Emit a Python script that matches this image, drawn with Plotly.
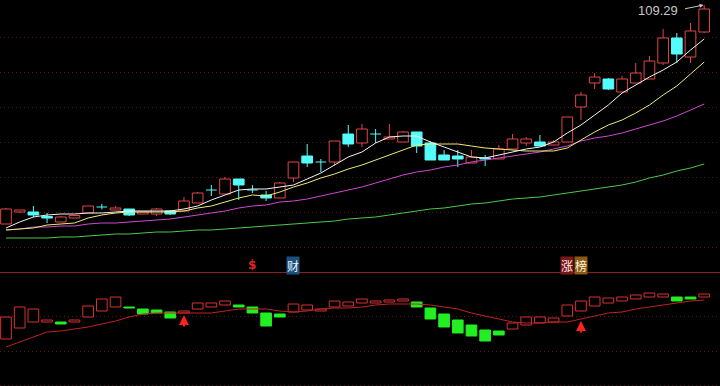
import plotly.graph_objects as go

# ---------------- data ----------------
idx = list(range(52))
opens = [65.5, 67.9, 67.9, 67.0, 65.9, 66.7, 67.7, 68.9, 68.3, 68.5,
         67.5, 67.5, 68.1, 68.1, 69.7, 72.3, 71.5, 74.5, 72.3, 71.3,
         70.7, 74.7, 79.1, 77.9, 77.9, 83.5, 81.7, 83.5, 82.5, 81.9,
         83.9, 81.7, 79.3, 79.1, 77.7, 78.7, 78.5, 80.5, 81.7, 81.9,
         81.3, 81.9, 88.9, 93.7, 94.5, 91.9, 93.7, 94.5, 97.7, 102.7,
         98.9, 103.9]
closes = [68.5, 68.3, 67.3, 66.7, 66.9, 67.2, 69.1, 68.9, 68.7, 67.3,
          67.9, 68.5, 67.5, 70.1, 71.7, 72.3, 74.5, 73.3, 72.3, 70.7,
          73.7, 77.9, 77.7, 77.9, 82.1, 81.5, 84.5, 83.5, 82.9, 83.9,
          81.1, 78.3, 78.3, 78.5, 78.9, 78.5, 80.5, 82.5, 82.5, 81.1,
          81.9, 86.9, 91.3, 94.9, 92.5, 94.5, 95.7, 98.1, 102.7, 99.5,
          104.1, 108.5]
highs = [68.7, 68.3, 69.1, 67.7, 67.1, 67.3, 69.1, 69.5, 69.1, 68.5,
         67.9, 68.7, 68.3, 70.9, 71.9, 73.3, 74.9, 74.5, 73.3, 72.1,
         73.9, 77.9, 81.5, 78.5, 82.1, 85.3, 85.5, 84.5, 85.5, 84.1,
         83.9, 82.1, 80.3, 80.3, 80.3, 79.3, 81.3, 83.5, 82.9, 83.3,
         82.3, 86.9, 91.9, 95.7, 94.7, 95.1, 97.7, 99.1, 104.5, 103.7,
         105.7, 109.29]
lows = [65.5, 67.7, 66.9, 65.7, 65.9, 66.7, 67.7, 68.4, 68.3, 67.1,
        67.5, 67.1, 67.3, 68.1, 69.7, 71.1, 71.5, 70.3, 71.7, 70.1,
        70.7, 73.9, 76.9, 75.9, 77.1, 80.9, 80.9, 81.7, 82.5, 81.9,
        79.7, 78.3, 78.3, 76.9, 77.7, 77.1, 78.5, 80.5, 81.1, 81.1,
        81.3, 81.9, 86.3, 92.5, 92.3, 91.9, 93.7, 94.5, 97.3, 97.7,
        97.7, 103.7]

ma5 = [64.7, 65.9, 66.9, 67.3, 67.5, 67.5, 67.7, 67.7, 67.9, 68.1,
       68.1, 68.1, 68.1, 68.5, 69.1, 70.3, 71.3, 72.3, 72.5, 72.5,
       72.9, 73.3, 74.5, 75.7, 77.3, 78.9, 79.9, 81.7, 82.9, 83.1,
       83.1, 81.9, 80.9, 79.9, 78.9, 78.7, 79.3, 79.9, 80.5, 80.9,
       81.9, 83.7, 85.3, 87.3, 89.3, 91.7, 93.3, 94.9, 96.3, 97.9,
       100.3, 102.5]
ma10 = [64.3, 64.5, 64.7, 65.3, 65.5, 65.7, 66.7, 67.3, 67.7, 67.9,
        67.9, 67.9, 67.9, 68.1, 68.7, 69.1, 69.9, 70.7, 71.3, 71.1,
        71.9, 72.9, 73.7, 74.7, 75.5, 76.5, 77.3, 78.3, 79.3, 80.3,
        81.3, 81.5, 81.5, 81.5, 81.1, 80.7, 80.5, 80.3, 80.1, 80.1,
        80.1, 80.7, 82.3, 83.9, 85.3, 86.3, 87.7, 89.3, 91.3, 93.1,
        95.5, 97.9]
ma20 = [64.3, 64.5, 64.9, 64.9, 65.1, 65.1, 65.5, 65.7, 65.7, 65.9,
        66.1, 66.3, 66.5, 66.9, 67.3, 67.7, 68.1, 68.7, 69.1, 69.3,
        69.9, 70.1, 70.5, 71.1, 71.7, 72.3, 72.9, 73.7, 74.5, 75.3,
        75.9, 76.3, 76.9, 77.3, 77.9, 78.3, 78.7, 79.1, 79.5, 79.9,
        80.5, 81.1, 82.1, 82.7, 83.1, 83.7, 84.5, 85.3, 86.1, 87.1,
        88.3, 89.5]
ma60 = [62.7, 62.7, 62.7, 62.7, 62.9, 62.9, 63.1, 63.3, 63.5, 63.5,
        63.7, 63.9, 63.9, 64.1, 64.3, 64.3, 64.5, 64.7, 64.9, 65.1,
        65.3, 65.5, 65.7, 65.9, 66.1, 66.5, 66.7, 66.9, 67.3, 67.7,
        68.1, 68.5, 68.7, 69.1, 69.5, 69.7, 70.1, 70.5, 70.7, 70.9,
        71.3, 71.7, 72.1, 72.5, 72.9, 73.3, 73.9, 74.7, 75.3, 76.1,
        76.7, 77.5]

ind_open = [47, 58, 64, 64, 64, 64, 69, 75, 79, 79,
            77, 76, 74, 73, 77, 79, 81, 81, 79, 73,
            72, 74, 76, 75, 79, 80, 83, 83, 84, 85,
            84, 78, 72, 66, 61, 56, 55, 57, 61, 63,
            64, 70, 75, 80, 83, 85, 87, 89, 89, 89,
            89, 89]
ind_close = [69, 79, 77, 66, 62, 66, 80, 87, 89, 78,
             72, 73, 68, 75, 83, 83, 85, 79, 73, 60,
             69, 82, 81, 77, 85, 84, 87, 85, 86, 87,
             79, 67, 59, 53, 50, 45, 51, 63, 69, 69,
             68, 81, 85, 89, 88, 89, 91, 93, 92, 85,
             87, 92]
ind_line = [39, 44, 49, 54, 55, 57, 59, 62, 65, 69,
            72, 73, 73, 73, 73, 73, 75, 77, 77, 77,
            75, 74, 75, 77, 78, 78, 79, 81, 82, 82,
            82, 81, 79, 77, 73, 70, 67, 64, 63, 63,
            64, 64, 67, 70, 73, 74, 77, 79, 81, 83,
            85, 86]
signal_idx = [13, 42]
events = [(18, "$"), (21, "财"), (41, "涨"), (42, "榜")]
price_grid = [102.9, 95.9, 88.9, 81.9, 74.9, 67.9, 60.9]
ind_grid = [1, 35, 70]

# ---------------- styles ----------------
RED = "#e04646"
CYAN = "#54fcfc"
BW = 0.78
GRID = "#5e1616"

fig = go.Figure()

# candle bodies
bx, bbase, bh, bfill, bline = [], [], [], [], []
rw_x, rw_y, cw_x, cw_y = [], [], [], []
dj_x, dj_y = [], []
for i, o, c, h, l in zip(idx, opens, closes, highs, lows):
    top, bot = max(o, c), min(o, c)
    if c > o:
        bx.append(i); bbase.append(bot); bh.append(top - bot)
        bfill.append("#000000"); bline.append(RED)
        rw_x += [i, i, None, i, i, None]
        rw_y += [h, top, None, bot, l, None]
    else:
        cw_x += [i, i, None]
        cw_y += [h, l, None]
        if c < o:
            bx.append(i); bbase.append(bot); bh.append(top - bot)
            bfill.append(CYAN); bline.append(CYAN)
        else:
            dj_x += [i - BW / 2, i + BW / 2, None]
            dj_y += [o, o, None]

fig.add_trace(go.Scatter(x=rw_x, y=rw_y, mode="lines", line=dict(color=RED, width=1),
                         hoverinfo="skip", xaxis="x", yaxis="y"))
fig.add_trace(go.Scatter(x=cw_x, y=cw_y, mode="lines", line=dict(color=CYAN, width=1),
                         hoverinfo="skip", xaxis="x", yaxis="y"))
fig.add_trace(go.Bar(x=bx, y=bh, base=bbase, width=BW,
                     marker=dict(color=bfill, line=dict(color=bline, width=1)),
                     hoverinfo="skip", xaxis="x", yaxis="y"))
fig.add_trace(go.Scatter(x=dj_x, y=dj_y, mode="lines", line=dict(color=CYAN, width=1),
                         hoverinfo="skip", xaxis="x", yaxis="y"))

# moving averages
for ser, col in [(ma60, "#4cc84c"), (ma20, "#d048d0"), (ma10, "#ecec78"), (ma5, "#f4f4f4")]:
    fig.add_trace(go.Scatter(x=idx, y=ser, mode="lines", line=dict(color=col, width=1),
                             hoverinfo="skip", xaxis="x", yaxis="y"))

# indicator panel
ix, ibase, ih, ifill, iline = [], [], [], [], []
for i, o, c in zip(idx, ind_open, ind_close):
    ix.append(i); ibase.append(min(o, c)); ih.append(abs(c - o))
    if c >= o:
        ifill.append("#000000"); iline.append("#d83030")
    else:
        ifill.append("#22ee22"); iline.append("#22ee22")
fig.add_trace(go.Bar(x=ix, y=ih, base=ibase, width=BW,
                     marker=dict(color=ifill, line=dict(color=iline, width=1)),
                     hoverinfo="skip", xaxis="x2", yaxis="y2"))
fig.add_trace(go.Scatter(x=idx, y=ind_line, mode="lines", line=dict(color="#c02222", width=1),
                         hoverinfo="skip", xaxis="x2", yaxis="y2"))

annotations = []
for s in signal_idx:
    head = ind_line[s] - 2
    annotations.append(dict(x=s, y=head, ax=s, ay=head - 13, xref="x2", yref="y2",
                            axref="x2", ayref="y2", text="", showarrow=True,
                            arrowhead=2, arrowsize=1.0, arrowwidth=2, arrowcolor="#ff2020"))

# event labels
ev_style = {
    "$": dict(font=dict(color="#e02424", size=12, family="DejaVu Sans"), bgcolor="rgba(0,0,0,0)"),
    "财": dict(font=dict(color="#e4f6ff", size=12, family="Noto Sans CJK SC"), bgcolor="#1c4f7e"),
    "涨": dict(font=dict(color="#ffe4e4", size=12, family="Noto Sans CJK SC"), bgcolor="#7a1818"),
    "榜": dict(font=dict(color="#fff2d6", size=12, family="Noto Sans CJK SC"), bgcolor="#8a5a18"),
}
for i, t in events:
    st = ev_style[t]
    label = f"<b>{t}</b>" if t == "$" else t
    annotations.append(dict(x=i, y=1 - 265 / 386, xref="x", yref="paper", text=label,
                            showarrow=False, xanchor="center", yanchor="middle",
                            font=st["font"], bgcolor=st["bgcolor"], borderpad=0))

# max price label
imax = max(idx, key=lambda k: highs[k])
annotations.append(dict(x=imax, y=highs[imax], xref="x", yref="y", text=f"{highs[imax]:.2f}",
                        showarrow=False, xanchor="right", yanchor="middle", xshift=-24, yshift=-5,
                        font=dict(color="#c8c8c8", size=13, family="Liberation Sans")))
annotations.append(dict(x=imax - 0.05, y=highs[imax], xref="x", yref="y", text="",
                        showarrow=True, ax=-20, ay=4, arrowhead=2, arrowsize=0.8,
                        arrowwidth=1, arrowcolor="#c8c8c8"))

xr = [-6 / 13.69, 714 / 13.69]
fig.update_layout(
    width=720, height=386, margin=dict(l=0, r=0, t=0, b=0),
    paper_bgcolor="#000000", plot_bgcolor="#000000",
    showlegend=False, barmode="overlay",
    xaxis=dict(range=xr, visible=False, anchor="y", fixedrange=True),
    xaxis2=dict(range=xr, visible=False, anchor="y2", matches="x", fixedrange=True),
    yaxis=dict(domain=[1 - 271 / 386, 1], range=[56.1, 110.3], tickvals=price_grid,
               showticklabels=False, ticks="", zeroline=False, showline=False,
               gridcolor=GRID, griddash="1px,3px", gridwidth=1, fixedrange=True),
    yaxis2=dict(domain=[0, 1 - 273 / 386], range=[0, 113], tickvals=ind_grid,
                showticklabels=False, ticks="", zeroline=False, showline=False,
                gridcolor=GRID, griddash="1px,3px", gridwidth=1, fixedrange=True),
    shapes=[dict(type="line", xref="paper", yref="paper", x0=0, x1=1,
                 y0=1 - 272.5 / 386, y1=1 - 272.5 / 386,
                 line=dict(color="#901c1c", width=1))],
    annotations=annotations,
)

fig.write_html("out.html")
